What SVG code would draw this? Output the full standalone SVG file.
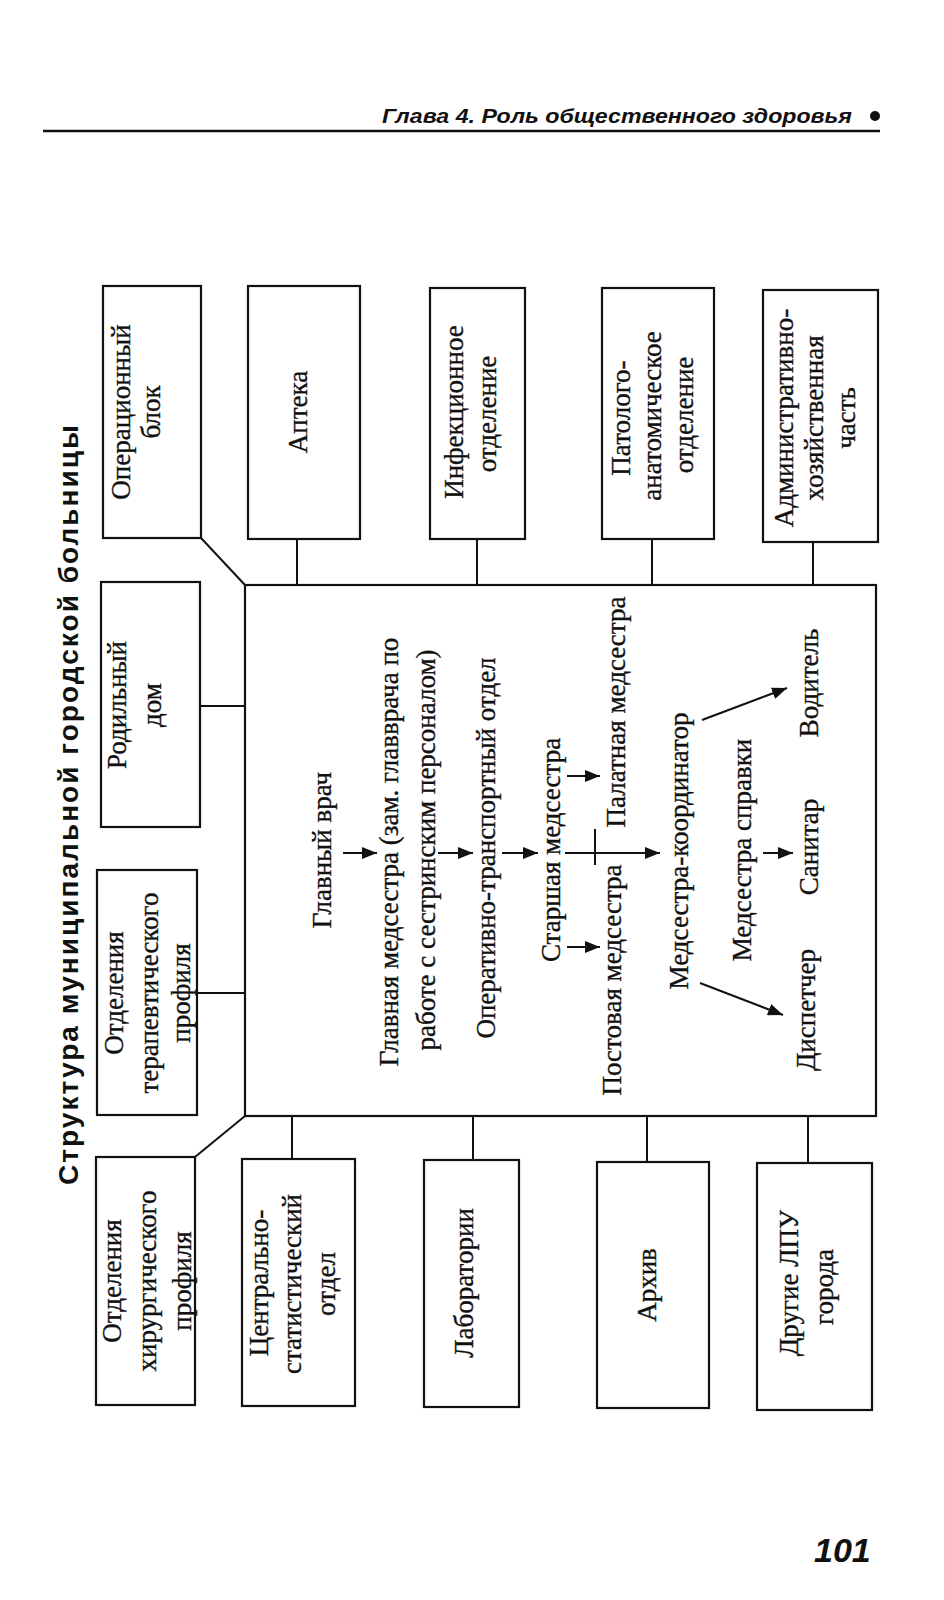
<svg xmlns="http://www.w3.org/2000/svg" width="944" height="1600" viewBox="0 0 944 1600">
<defs>
<marker id="ah" markerUnits="userSpaceOnUse" markerWidth="16" markerHeight="12" refX="15" refY="6" orient="auto">
<path d="M0,0 L15,6 L0,12 Z" fill="#111"/>
</marker>
</defs>
<style>
.box{fill:none;stroke:#111;stroke-width:2.2}
.ln{fill:none;stroke:#111;stroke-width:2}
.ar{fill:none;stroke:#111;stroke-width:2;marker-end:url(#ah)}
.t{font-family:"Liberation Serif","Times New Roman",serif;font-size:27px;fill:#111;stroke:#111;stroke-width:0.35;text-anchor:middle;dominant-baseline:middle}
.title{font-family:"Liberation Sans",Arial,sans-serif;font-weight:bold;font-size:28px;fill:#111;text-anchor:middle;dominant-baseline:middle}
.hdr{font-family:"Liberation Sans",Arial,sans-serif;font-weight:bold;font-style:italic;font-size:20px;fill:#111}
.pg{font-family:"Liberation Sans",Arial,sans-serif;font-weight:bold;font-style:italic;font-size:34px;fill:#111}
</style>
<rect width="944" height="1600" fill="#fff"/>

<g id="header">
<text class="hdr" x="382" y="123" textLength="470" lengthAdjust="spacingAndGlyphs">Глава 4. Роль общественного здоровья</text>
<circle cx="875" cy="116" r="5" fill="#111"/>
<line x1="43" y1="131" x2="880" y2="131" stroke="#111" stroke-width="2.5"/>
</g>

<g id="title">
<text class="title" transform="translate(71,805) rotate(-90)" textLength="760" lengthAdjust="spacing">Структура муниципальной городской больницы</text>
</g>

<g id="connectors">
<line class="ln" x1="201" y1="538" x2="245" y2="585"/>
<line class="ln" x1="297" y1="539" x2="297" y2="585"/>
<line class="ln" x1="477" y1="539" x2="477" y2="585"/>
<line class="ln" x1="652" y1="539" x2="652" y2="585"/>
<line class="ln" x1="813" y1="542" x2="813" y2="585"/>
<line class="ln" x1="200" y1="706" x2="245" y2="706"/>
<line class="ln" x1="197" y1="993" x2="245" y2="993"/>
<line class="ln" x1="245" y1="1116" x2="195" y2="1157"/>
<line class="ln" x1="292" y1="1116" x2="292" y2="1159"/>
<line class="ln" x1="473" y1="1116" x2="473" y2="1160"/>
<line class="ln" x1="647" y1="1116" x2="647" y2="1162"/>
<line class="ln" x1="808" y1="1116" x2="808" y2="1163"/>
<line class="ar" x1="343" y1="853" x2="377" y2="853"/>
<line class="ar" x1="438" y1="853" x2="473" y2="853"/>
<line class="ar" x1="502" y1="853" x2="538" y2="853"/>
<line class="ar" x1="567" y1="776" x2="600" y2="776"/>
<line class="ar" x1="567" y1="947" x2="600" y2="947"/>
<line class="ar" x1="565" y1="853" x2="660" y2="853"/>
<line class="ln" x1="595" y1="829" x2="595" y2="865"/>
<line class="ar" x1="702" y1="720" x2="787" y2="688"/>
<line class="ar" x1="700" y1="983" x2="783" y2="1015"/>
<line class="ar" x1="763" y1="853" x2="793" y2="853"/>
</g>

<g id="n_oper"><rect class="box" x="103" y="286" width="98" height="252"/>
<text class="t" transform="translate(124,412) rotate(-90)">Операционный</text>
<text class="t" transform="translate(154,412) rotate(-90)">блок</text></g>

<g id="n_apt"><rect class="box" x="248" y="286" width="112" height="253"/>
<text class="t" transform="translate(301,412) rotate(-90)">Аптека</text></g>

<g id="n_inf"><rect class="box" x="430" y="288" width="95" height="251"/>
<text class="t" transform="translate(457,412) rotate(-90)">Инфекционное</text>
<text class="t" transform="translate(490,414) rotate(-90)">отделение</text></g>

<g id="n_pat"><rect class="box" x="602" y="288" width="112" height="251"/>
<text class="t" transform="translate(624,418) rotate(-90)">Патолого-</text>
<text class="t" transform="translate(655,416) rotate(-90)">анатомическое</text>
<text class="t" transform="translate(687,415) rotate(-90)">отделение</text></g>

<g id="n_adm"><rect class="box" x="763" y="290" width="115" height="252"/>
<text class="t" transform="translate(787,418) rotate(-90)">Административно-</text>
<text class="t" transform="translate(817,418) rotate(-90)">хозяйственная</text>
<text class="t" transform="translate(849,418) rotate(-90)">часть</text></g>

<g id="n_rod"><rect class="box" x="101" y="582" width="99" height="245"/>
<text class="t" transform="translate(120,705) rotate(-90)">Родильный</text>
<text class="t" transform="translate(155,705) rotate(-90)">дом</text></g>

<g id="n_ter"><rect class="box" x="97" y="870" width="100" height="245"/>
<text class="t" transform="translate(117,993) rotate(-90)">Отделения</text>
<text class="t" transform="translate(152,993) rotate(-90)">терапевтического</text>
<text class="t" transform="translate(184,993) rotate(-90)">профиля</text></g>

<g id="n_main"><rect class="box" x="245" y="585" width="631" height="531"/>
<text class="t" transform="translate(325,850) rotate(-90)">Главный врач</text>
<text class="t" transform="translate(392,852) rotate(-90)">Главная медсестра (зам. главврача по</text>
<text class="t" transform="translate(429,850) rotate(-90)">работе с сестринским персоналом)</text>
<text class="t" transform="translate(489,848) rotate(-90)">Оперативно-транспортный отдел</text>
<text class="t" transform="translate(554,850) rotate(-90)">Старшая медсестра</text>
<text class="t" transform="translate(619,712) rotate(-90)">Палатная медсестра</text>
<text class="t" transform="translate(615,980) rotate(-90)">Постовая медсестра</text>
<text class="t" transform="translate(682,851) rotate(-90)">Медсестра-координатор</text>
<text class="t" transform="translate(745,850) rotate(-90)">Медсестра справки</text>
<text class="t" transform="translate(812,683) rotate(-90)">Водитель</text>
<text class="t" transform="translate(812,847) rotate(-90)">Санитар</text>
<text class="t" transform="translate(809,1010) rotate(-90)">Диспетчер</text></g>

<g id="n_hir"><rect class="box" x="96" y="1157" width="99" height="248"/>
<text class="t" transform="translate(115,1281) rotate(-90)">Отделения</text>
<text class="t" transform="translate(150,1281) rotate(-90)">хирургического</text>
<text class="t" transform="translate(185,1281) rotate(-90)">профиля</text></g>

<g id="n_csd"><rect class="box" x="242" y="1159" width="113" height="247"/>
<text class="t" transform="translate(262,1283) rotate(-90)">Центрально-</text>
<text class="t" transform="translate(295,1284) rotate(-90)">статистический</text>
<text class="t" transform="translate(329,1284) rotate(-90)">отдел</text></g>

<g id="n_lab"><rect class="box" x="424" y="1160" width="95" height="247"/>
<text class="t" transform="translate(467,1283) rotate(-90)">Лаборатории</text></g>

<g id="n_arh"><rect class="box" x="597" y="1162" width="112" height="246"/>
<text class="t" transform="translate(650,1285) rotate(-90)">Архив</text></g>

<g id="n_dr"><rect class="box" x="757" y="1163" width="115" height="247"/>
<text class="t" transform="translate(792,1283) rotate(-90)">Другие ЛПУ</text>
<text class="t" transform="translate(827,1287) rotate(-90)">города</text></g>

<g id="pagenum">
<text class="pg" x="814" y="1562">101</text>
</g>
</svg>
